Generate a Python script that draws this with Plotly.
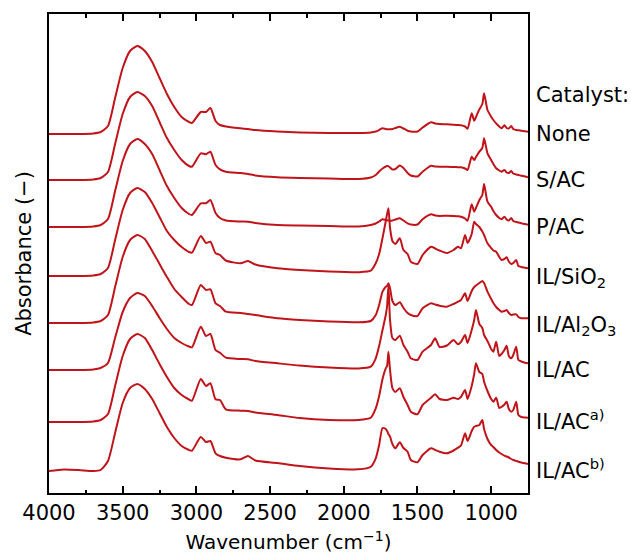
import plotly.graph_objects as go

# Wavenumber grid (cm^-1)
wn_high = [4000, 3900, 3800, 3700, 3650, 3600, 3550, 3500, 3450, 3400, 3350, 3300, 3250,
           3200, 3150, 3100, 3050, 3030, 2970, 2935, 2905, 2870, 2840, 2800, 2700, 2650,
           2600, 2450, 2300, 2100, 1900]
wn_fp = [1817, 1783, 1760, 1737, 1715, 1706, 1697, 1686, 1670, 1650, 1620, 1595, 1567,
         1545, 1500, 1465, 1408, 1380, 1350, 1300, 1255, 1225, 1205, 1177, 1160, 1132,
         1115, 1103, 1080, 1060, 1048, 1025, 1000, 985, 966, 945, 930, 910, 895, 880,
         864, 850, 830, 815, 795, 770, 750]
wavenumber = wn_high + wn_fp

# Absorbance above each spectrum's own baseline (units of 0.01 a.u.)
none_hi = [0, 0, 0, 0.5, 2, 8, 37, 66, 83, 88, 83, 72, 56, 40, 27, 17, 12, 11, 22, 22, 26, 13, 9, 7.5, 5.7, 5, 4, 2.5, 1.5, 1, 1]
none_fp = [1.5, 2.5, 4, 5.7, 5, 4.8, 4.8, 4.7, 5, 6, 7.3, 5.5, 3.3, 2.5, 2.5, 6.5, 11.7, 10.5, 10, 9.7, 9.3, 9, 8.7, 7.5, 5.3, 20.7, 13.3, 17, 24.7, 30, 40.7, 24, 17.3, 14, 10.7, 7.5, 5.7, 8.7, 6, 5.5, 8, 5, 4, 3.8, 3.3, 2.8, 2.3]

sac_hi = [0, 0, 0, 0.5, 2, 8, 37, 66, 83, 88, 84, 74, 58, 42, 30, 20, 14, 13.3, 26.7, 25.7, 28.3, 15, 10.7, 8.3, 7, 6, 4.5, 2.7, 2, 1.5, 1]
sac_fp = [2.5, 5, 8.5, 11.5, 13.5, 14, 13.8, 12.5, 10.5, 11, 14.5, 12, 7, 4.5, 3.5, 8.3, 14.3, 13.5, 13.3, 13.3, 13, 12.8, 12.7, 11.5, 10, 23.3, 20, 23, 28.3, 32, 41.7, 26.7, 20, 16, 11.7, 9.5, 8.3, 10, 7.5, 7, 9, 6.5, 5.5, 5, 4.3, 3.5, 2.7]

pac_hi = [0, 0, 0, 0.5, 2, 8, 37, 66, 83, 88, 83, 73, 57, 41, 29, 19, 13, 12, 23.7, 23.7, 27, 14, 9, 6.5, 5.5, 5.3, 4, 2, 1.5, 1, 0.5]
pac_fp = [2, 3.5, 5.5, 7.7, 7, 6.7, 6.5, 6.3, 6.5, 7.5, 8.7, 6.5, 3.7, 2.5, 2.5, 7.7, 12.7, 11.5, 11, 11.3, 11, 10.7, 10.3, 8.5, 6.3, 22.7, 15.3, 19, 27, 32, 43, 25.3, 20.3, 16, 12, 9, 7.7, 10.3, 7.5, 6.5, 9, 6, 5, 4.5, 3.7, 3, 2.3]

ilsio2_hi = [0, 0, 0, 0.5, 2, 8, 37, 66, 83, 88, 84, 73, 59, 45, 36, 29, 24, 23.3, 40, 33, 34.3, 22.7, 21, 15.5, 12.7, 15, 11.5, 7.7, 6, 4.5, 3.8]
ilsio2_fp = [5.3, 12.7, 22, 38, 55, 62, 67.7, 48, 35, 32, 37.7, 26, 22, 14.3, 12, 21, 29.3, 27.5, 25.5, 23, 26, 29.3, 27.7, 41, 33, 42, 54.3, 52, 49, 44.5, 41, 32.7, 28, 25.5, 24.3, 19, 16, 17, 18.7, 14.5, 12, 13, 16, 10, 9, 8.3, 7.7]

ilal2o3_hi = [0, 0, 0, 0.5, 2, 8, 37, 66, 83, 88, 84, 72, 59, 46, 34, 26, 19, 18, 38, 33, 33.7, 19.7, 17, 11.3, 10, 9, 8, 4.7, 3, 1.5, 0.7]
ilal2o3_fp = [2, 8, 18, 31.3, 36.3, 37, 39.7, 34.7, 22, 18, 20.7, 15, 10, 8, 7, 14.7, 19.7, 18.5, 17.3, 16.3, 19, 21.3, 23, 29.7, 22, 32, 36, 37.5, 40, 42, 40, 31.3, 24, 20, 16, 13, 11.3, 12, 13, 10, 8, 8.5, 8.7, 6, 4.7, 4.7, 4.7]

ilac_hi = [0, 0, 0, 0.5, 2, 7, 33, 58, 72, 77, 74, 64, 52, 41, 32, 27, 23.5, 22.7, 43.3, 34, 36, 20, 17.3, 12.3, 11, 10.7, 9, 6.7, 4.5, 2.5, 1.5]
ilac_fp = [3.3, 11.7, 24, 40, 55, 64, 84, 50, 32, 30, 34.3, 25, 18.3, 11.7, 10, 18.3, 25, 31.7, 23, 24.5, 30, 25.7, 28, 35, 27, 40, 50, 60, 46, 42, 35, 29, 21, 18.3, 28.3, 14, 16, 20, 24.3, 14, 11.7, 15, 23.3, 10, 8.5, 7.2, 6.7]

ilaca_hi = [0, 0, 0, 0.5, 2, 8, 37, 66, 83, 88, 84, 72, 58, 45, 34, 27, 22.5, 21.3, 43, 36, 38.7, 22.7, 22, 12.7, 11.3, 11, 9.5, 7, 4, 2, 2]
ilaca_fp = [4.3, 13.7, 26, 43, 53.7, 56, 70.3, 52, 34, 30, 33.7, 25, 17, 10.3, 7.7, 17, 24.3, 27.7, 23, 22, 24.3, 23, 25, 32, 23, 36, 48, 58.7, 50, 48, 40.3, 31, 23, 20.3, 24.3, 14, 15, 17.5, 20.3, 13, 10.3, 12, 20.3, 7, 5, 4.5, 4.3]

ilacb_hi = [0, 1.5, 1, 0, 1, 10, 39, 68, 83, 87, 82, 72, 58, 44, 33, 25, 21, 20.3, 34, 29, 30, 17.7, 15, 13.3, 11.7, 15, 10.5, 8, 5, 2.5, 1.7]
ilacb_fp = [4.3, 12.7, 26, 43, 42, 40, 37, 34.3, 27, 22.7, 28.7, 23, 19.3, 11, 8.7, 16, 22.7, 21, 19.3, 17.7, 20.5, 23.3, 25.5, 37.7, 30, 40, 44.3, 45, 46, 51, 42, 32, 26, 24, 21, 18.5, 17, 15.3, 14.5, 13.5, 12, 11, 10, 9.3, 8.5, 7.7, 7]

catalysts = ["None", "S/AC", "P/AC", "IL/SiO<sub>2</sub>", "IL/Al<sub>2</sub>O<sub>3</sub>",
             "IL/AC", "IL/AC<sup>a)</sup>", "IL/AC<sup>b)</sup>"]
spectra = [none_hi + none_fp, sac_hi + sac_fp, pac_hi + pac_fp, ilsio2_hi + ilsio2_fp,
           ilal2o3_hi + ilal2o3_fp, ilac_hi + ilac_fp, ilaca_hi + ilaca_fp, ilacb_hi + ilacb_fp]
# vertical stacking offsets (a.u.)
offsets = [3.59, 3.13, 2.66, 2.17, 1.70, 1.23, 0.71, 0.22]
ABS_SCALE = 0.01

x_ticks = [4000, 3500, 3000, 2500, 2000, 1500, 1000]

LINE_COLOR = "#C0141B"
FONT = "DejaVu Sans, Liberation Sans, Arial, sans-serif"
FS = 21

fig = go.Figure()
for name, vals, off in zip(catalysts, spectra, offsets):
    fig.add_trace(go.Scatter(
        x=wavenumber, y=[off + v * ABS_SCALE for v in vals], mode="lines", name=name,
        line=dict(color=LINE_COLOR, width=2, shape="spline", smoothing=0.6),
        showlegend=False, hoverinfo="skip"))

label_shift = [0, 0, 0, -2, -3, 0, 2, 2]
annotations = [dict(text="Catalyst:", x=1, xref="paper", y=offsets[0] + 0.38, yref="y",
                    xanchor="left", yanchor="middle", xshift=6, yshift=1, showarrow=False,
                    font=dict(family=FONT, size=FS, color="black"))]
for name, off, sh in zip(catalysts, offsets, label_shift):
    annotations.append(dict(text=name, x=1, xref="paper", y=off, yref="y", xanchor="left",
                            yanchor="middle", xshift=6, yshift=sh, showarrow=False,
                            font=dict(family=FONT, size=FS, color="black")))

fig.update_layout(
    width=631, height=557,
    margin=dict(l=49, r=103, t=14, b=64, autoexpand=False),
    paper_bgcolor="white", plot_bgcolor="white",
    font=dict(family=FONT, size=FS, color="black"),
    annotations=annotations,
    xaxis=dict(
        range=[4000, 750], tickvals=x_ticks, ticks="inside", ticklen=7, tickwidth=1.5,
        tickcolor="black", showline=True, linewidth=2, linecolor="black", mirror="ticks",
        showgrid=False, zeroline=False, automargin=False,
        minor=dict(dtick=250, tick0=0, ticks="inside", ticklen=3.5, tickwidth=1.5,
                   tickcolor="black", showgrid=False),
        tickfont=dict(family=FONT, size=FS, color="black"),
        title=dict(text="Wavenumber (cm<sup>−1</sup>)", standoff=11,
                   font=dict(family=FONT, size=20, color="black")),
    ),
    yaxis=dict(
        range=[0, 4.79], showticklabels=False, ticks="", showline=True, linewidth=2,
        linecolor="black", mirror=True, showgrid=False, zeroline=False, automargin=False,
        title=dict(text="Absorbance (−)", standoff=10,
                   font=dict(family=FONT, size=FS, color="black")),
    ),
)

fig.write_html("out.html")
